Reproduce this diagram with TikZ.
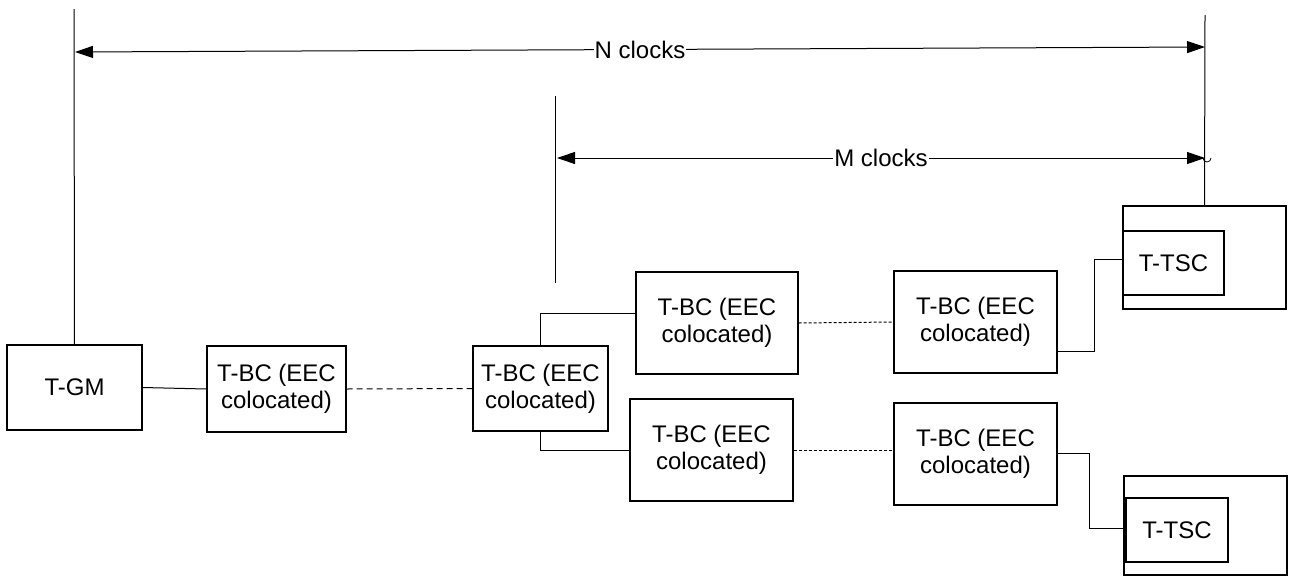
\documentclass[tikz,border=0pt]{standalone}
\usepackage{fontspec}
\setmainfont{Liberation Sans}
\usetikzlibrary{arrows.meta}

\begin{document}
\begin{tikzpicture}[x=1pt,y=-1pt,
  every node/.style={font=\fontsize{24}{27}\selectfont},
  box/.style={draw,line width=1.2pt,rectangle,inner sep=0pt,align=center},
  link/.style={line width=1pt},
  farlink/.style={line width=1pt,dash pattern=on 6pt off 4pt},
  nearlink/.style={line width=1pt,dash pattern=on 3pt off 2pt},
  dimline/.style={line width=1pt,{Triangle[length=18pt,width=12pt]}-{Triangle[length=18pt,width=12pt]}},
  dimlabel/.style={fill=white,inner xsep=1pt,inner ysep=2pt},
  guide/.style={line width=1pt}]

\useasboundingbox (0,0) rectangle (1290,576);

% grandmaster and first chain of boundary clocks
\node[box,minimum width=135pt,minimum height=85pt] (gm) at (74.5,387.5) {T-GM};
\node[box,minimum width=139pt,minimum height=86pt] (bc1) at (276.5,389) {T-BC (EEC\\colocated)};
\node[box,minimum width=135pt,minimum height=85pt] (bc2) at (540.5,388.5) {T-BC (EEC\\colocated)};

% upper branch
\node[box,minimum width=162pt,minimum height=102pt] (bc3u) at (717,323) {T-BC (EEC\\colocated)};
\node[box,minimum width=163pt,minimum height=102pt] (bc4u) at (975.5,322) {T-BC (EEC\\colocated)};
\node[box,minimum width=163pt,minimum height=103pt] (endu) at (1204.5,257.5) {};
\node[box,minimum width=101pt,minimum height=64pt] (tscu) at (1173.5,263) {T-TSC};

% lower branch
\node[box,minimum width=163pt,minimum height=102pt] (bc3l) at (711.5,450) {T-BC (EEC\\colocated)};
\node[box,minimum width=163pt,minimum height=102pt] (bc4l) at (975.5,454) {T-BC (EEC\\colocated)};
\node[box,minimum width=163pt,minimum height=99pt] (endl) at (1205.5,525.5) {};
\node[box,minimum width=102pt,minimum height=64pt] (tscl) at (1177,530) {T-TSC};

% links between clocks
\draw[link] (gm.east) -- (bc1.west);
\draw[farlink] (bc1.east) -- (bc2.west);
\draw[link] (bc2.north) |- ([yshift=10pt]bc3u.west);
\draw[link] (bc2.south) |- (bc3l.west);
\draw[nearlink] (bc3u.east) -- (bc4u.west);
\draw[nearlink] (bc3l.east) -- (bc3l.east -| bc4l.west);
\draw[link] ([yshift=-29pt]bc4u.east) -- ++(37,0) |- ([yshift=4pt]tscu.west);
\draw[link] ([yshift=1pt]bc4l.east) -- ++(32,0) |- ([yshift=2pt]tscl.west);

% reference lines for the clock counts
\coordinate (ntop) at (74,9);
\coordinate (rtop) at (1205,15);
\coordinate (mtop) at (555,96);
\coordinate (mbot) at (555,283);
\draw[guide] (gm.north) -- (ntop);
\draw[guide] (endu.north) -- (rtop);
\draw[guide] (mtop) -- (mbot);

% N clocks span
\coordinate (nl) at (75,52);
\coordinate (nr) at (1205,47);
\draw[dimline] (nl) -- (nr) node[dimlabel,pos=0.5] (nlab) {N clocks};

% M clocks span
\coordinate (ml) at (557,158);
\coordinate (mr) at (1205,158);
\draw[dimline] (ml) -- (mr) node[dimlabel,pos=0.5] (mlab) {M clocks};
\draw[line width=0.8pt] (1203,158) arc[start angle=180,end angle=0,radius=4];

\end{tikzpicture}
\end{document}
